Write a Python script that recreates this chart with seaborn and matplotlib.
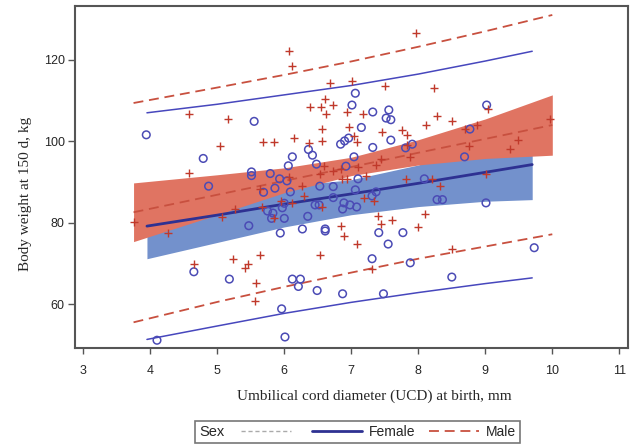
import numpy as np
import pandas as pd
import matplotlib
matplotlib.use('Agg')
import matplotlib.pyplot as plt
from matplotlib.lines import Line2D
from matplotlib.offsetbox import HPacker
import seaborn as sns

# ─── Données ────────────────────────────────────────────────────────────────
female_ucd = [3.94, 5.55, 4.79, 6.36, 6.42, 6.12, 6.06, 6.48, 6.84, 5.51, 5.51, 5.79,
              5.93, 6.04, 4.87, 5.69, 5.86, 6.09, 6.53, 6.73,
              5.47, 5.75, 5.83, 5.81, 5.97, 6.00, 6.00, 5.94, 6.35, 6.27, 6.46, 6.52,
              6.61, 6.61, 6.73, 4.65, 5.18, 6.12, 6.24, 6.21, 6.49, 5.96, 6.01, 4.10,
              7.06, 7.01, 7.32, 7.56, 7.52, 7.59, 7.15, 6.90, 6.96, 7.59, 7.32, 7.81,
              7.91, 9.02, 8.77, 8.69, 7.04, 6.92, 7.10, 8.09, 7.06, 7.37,
              7.31, 6.89, 6.98, 7.08, 6.87, 8.28, 8.36, 9.01, 7.41, 7.77, 7.55, 7.31,
              7.88, 9.73, 8.50, 6.87, 7.48]
female_bw = [101.6, 104.9, 95.8, 98.0, 96.6, 96.2, 94.0, 94.4, 99.3, 92.5, 91.6, 92.1,
             90.8, 90.3, 89.0, 87.5, 88.5, 87.6, 89.0, 88.9,
             79.3, 82.9, 82.4, 81.1, 83.7, 84.8, 81.1, 77.5, 81.6, 78.5, 84.4, 84.4,
             78.5, 78.0, 86.2, 68.0, 66.2, 66.2, 66.2, 64.4, 63.4, 58.9, 52.0, 51.2,
             111.8, 108.9, 107.2, 107.7, 105.7, 105.3, 103.4, 100.1, 100.8, 100.3, 98.5, 98.4,
             99.3, 108.9, 103.0, 96.2, 96.2, 93.9, 90.8, 90.8, 88.1, 87.6,
             86.6, 84.9, 84.4, 83.9, 83.4, 85.7, 85.7, 84.9, 77.6, 77.6, 74.8, 71.2,
             70.2, 73.9, 66.7, 62.6, 62.6]

male_ucd = [6.07, 6.12, 6.68, 6.61, 6.39, 6.55, 6.72, 6.62, 4.58, 5.16, 6.57, 5.68,
            5.84, 6.14, 5.04, 6.57, 6.37, 4.58, 6.59, 6.54, 6.72, 6.07, 6.27,
            3.76, 4.27, 5.07, 5.27, 5.66, 5.84, 5.95, 6.11, 6.30, 6.57, 4.65, 5.23,
            5.46, 5.42, 5.63, 5.58, 5.56, 6.53, 5.64,
            7.96, 7.01, 7.51, 8.24, 6.93, 7.18, 8.28, 8.51, 8.11, 6.97, 7.46, 7.75,
            7.83, 7.04, 7.08, 7.83, 8.70, 8.87, 9.04, 9.97, 9.49, 9.37, 8.75, 7.87,
            7.37, 7.44, 6.84, 7.10, 6.93, 7.22, 7.81, 8.21, 8.32, 9.01, 6.86,
            7.19, 7.34, 6.85, 6.89, 7.08, 7.40, 7.44, 7.60, 8.10, 7.99, 8.51, 7.31]
male_bw = [122.1, 118.5, 114.4, 110.3, 108.5, 108.5, 109.0, 106.7, 106.7, 105.4, 103.0, 99.9,
           99.9, 100.8, 98.9, 100.0, 99.5, 92.2, 94.0, 92.0, 92.6, 91.3, 89.0,
           80.3, 77.5, 81.5, 83.4, 83.8, 81.3, 85.4, 84.8, 86.7, 83.8, 69.9, 71.2,
           69.9, 69.0, 72.1, 65.3, 60.8, 72.1, 88.2,
           126.6, 114.9, 113.6, 113.0, 107.2, 106.7, 106.2, 105.0, 104.0, 103.5, 102.2, 102.8,
           101.6, 101.3, 99.8, 99.1, 103.0, 103.9, 108.0, 105.4, 100.3, 98.0, 98.8, 96.2,
           94.3, 95.7, 93.1, 93.6, 90.8, 91.6, 90.8, 90.8, 89.0, 92.0, 90.8,
           86.2, 85.4, 79.3, 76.7, 74.8, 81.6, 79.7, 80.8, 82.1, 78.9, 73.5, 68.6]

# droites de régression, bandes de confiance (moyenne) et limites de prédiction
f_x      = [3.95, 5.0, 6.0, 7.0, 8.0, 9.0, 9.7]
f_fit    = [79.2, 81.9, 84.6, 87.1, 89.7, 92.4, 94.3]
f_clm_lo = [71.2, 75.2, 79.0, 82.0, 84.0, 85.3, 85.7]
f_clm_hi = [87.2, 87.8, 88.9, 90.6, 94.2, 99.0, 102.9]
f_pi_lo  = [51.4, 54.7, 57.8, 60.5, 62.9, 65.1, 66.5]
f_pi_hi  = [107.0, 109.1, 111.4, 113.7, 116.5, 119.7, 122.1]

m_x      = [3.75, 5.0, 6.0, 7.0, 8.0, 9.0, 10.0]
m_fit    = [82.6, 86.9, 90.3, 93.7, 97.2, 100.6, 104.0]
m_clm_lo = [75.4, 82.0, 87.4, 91.6, 94.2, 95.8, 96.6]
m_clm_hi = [89.8, 91.8, 93.5, 96.1, 100.4, 105.5, 111.4]
m_pi_lo  = [55.6, 60.6, 64.3, 67.8, 71.2, 74.2, 77.2]
m_pi_hi  = [109.4, 113.2, 116.3, 119.6, 123.2, 127.0, 131.0]

x_ticks = [3, 4, 5, 6, 7, 8, 9, 10, 11]
y_ticks = [60, 80, 100, 120]

# ─── Style ──────────────────────────────────────────────────────────────────
sns.set_style('white')
plt.rcParams['font.family'] = ['Liberation Sans', 'DejaVu Sans']

C_F_BAND = '#7391CC'
C_M_BAND = '#E07462'
C_F_FIT = '#2E3192'
C_F_LINE = '#4747BD'
C_F_PT = '#4B4BB5'
C_M_LINE = '#C8503F'
C_M_PT = '#C0392B'
DASH = (0, (5.5, 3.2))

fig = plt.figure(figsize=(6.35, 4.45), dpi=100)
ax = fig.add_axes([0.1181, 0.218, 0.8709, 0.7685])

# bandes de confiance
ax.fill_between(f_x, f_clm_lo, f_clm_hi, color=C_F_BAND, linewidth=0, zorder=1)
ax.fill_between(m_x, m_clm_lo, m_clm_hi, color=C_M_BAND, linewidth=0, zorder=2)

# droites
sns.lineplot(x=f_x, y=f_fit, color=C_F_FIT, linewidth=2, ax=ax, zorder=3)
sns.lineplot(x=f_x, y=f_pi_lo, color=C_F_LINE, linewidth=1.1, ax=ax, zorder=3)
sns.lineplot(x=f_x, y=f_pi_hi, color=C_F_LINE, linewidth=1.1, ax=ax, zorder=3)
for yy in (m_fit, m_pi_lo, m_pi_hi):
    sns.lineplot(x=m_x, y=yy, color=C_M_LINE, linewidth=1.3, linestyle=DASH,
                 ax=ax, zorder=3)

# points
sns.scatterplot(x=female_ucd, y=female_bw, marker='o', s=30, facecolor='none',
                edgecolor=C_F_PT, linewidth=1.1, ax=ax, zorder=4)
sns.scatterplot(x=male_ucd, y=male_bw, marker='+', s=40, color=C_M_PT,
                linewidth=1.0, ax=ax, zorder=4)

ax.set_xlim(2.876, 11.13)
ax.set_ylim(49.3, 133.2)
ax.set_xticks(x_ticks)
ax.set_yticks(y_ticks)
ax.tick_params(axis='x', direction='out', length=4.5, width=1, color='#555555',
               pad=7.5, labelsize=9, bottom=True)
ax.tick_params(axis='y', direction='out', length=5, width=1, color='#555555',
               pad=2.5, labelsize=9, left=True)
for sp in ax.spines.values():
    sp.set_color('#555555')
    sp.set_linewidth(1.5)

ax.set_xlabel("Umbilical cord diameter (UCD) at birth, mm",
              family='Liberation Serif', fontsize=11)
ax.set_ylabel("Body weight at 150 d, kg", family='Liberation Serif', fontsize=11)
ax.xaxis.set_label_coords(0.542, -0.12)
ax.yaxis.set_label_coords(-0.078, 0.45)

# ─── Légende ────────────────────────────────────────────────────────────────
handles = [Line2D([], [], color='#AAAAAA', linewidth=1, linestyle=(0, (3, 2))),
           Line2D([], [], color=C_F_FIT, linewidth=2),
           Line2D([], [], color=C_M_LINE, linewidth=1.3, linestyle=DASH)]
leg = fig.legend(handles=handles, labels=['', 'Female', 'Male'], title='Sex',
                 ncol=3, loc='center', bbox_to_anchor=(0.563, 0.029),
                 fontsize=10, title_fontsize=10.5, handlelength=3.6,
                 handletextpad=0.5, columnspacing=1.0, borderpad=0.3,
                 frameon=True, fancybox=False, edgecolor='#555555')
leg.get_frame().set_linewidth(1.2)
# titre à gauche des entrées
old = leg._legend_box
box = HPacker(pad=old.pad, sep=12, align='center', children=old.get_children())
box.set_figure(fig)
box.set_offset(leg._findoffset)
leg._legend_box = box

plt.savefig('out.png', dpi=100)
plt.close()
